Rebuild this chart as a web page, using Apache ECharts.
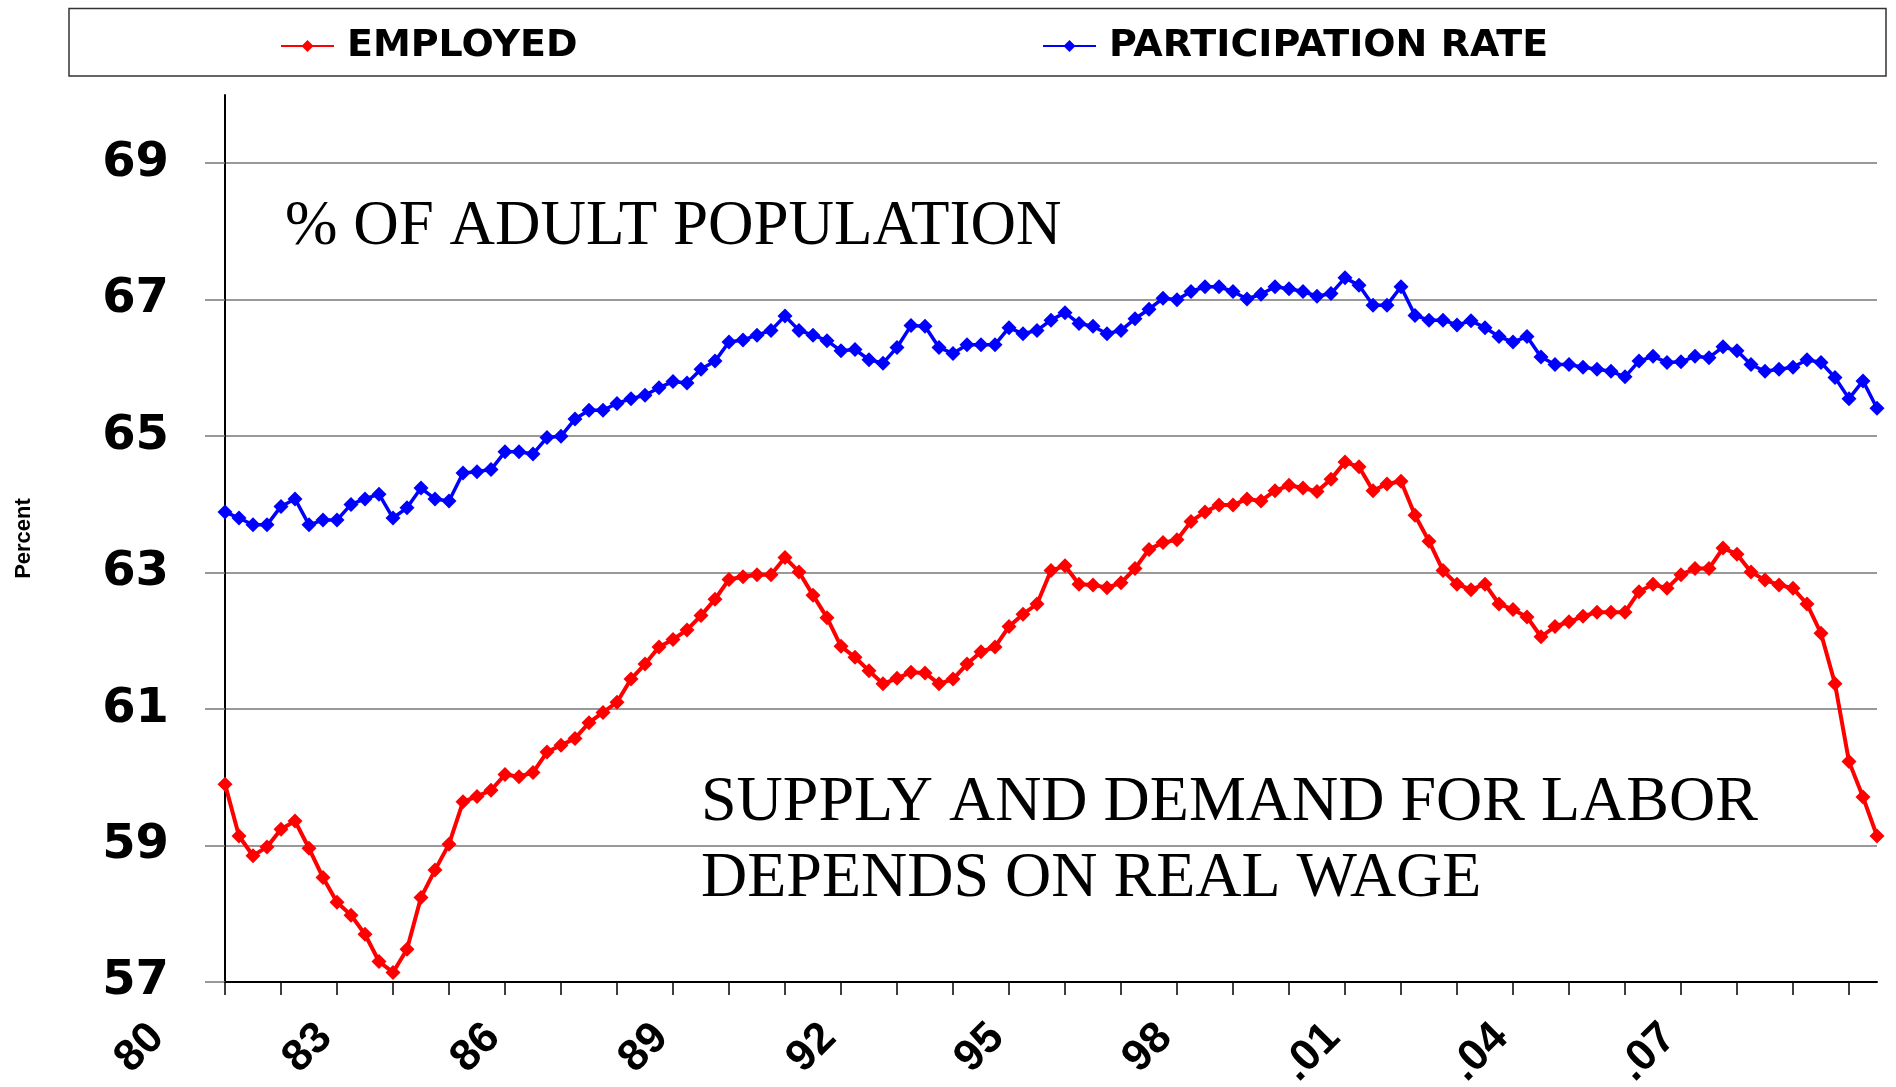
<!DOCTYPE html>
<html>
<head>
<meta charset="utf-8">
<title>Employed and participation rate</title>
<script src="https://cdn.jsdelivr.net/npm/echarts@6/dist/echarts.min.js"></script>
<style>
  html, body { margin: 0; padding: 0; background: #fff; }
  #chart { width: 1896px; height: 1087px; }
</style>
</head>
<body>
<div id="chart"></div>
<script>
// quarterly data, 1980 Q1 onwards
var startYear = 1980;
var yearLabels = ['80', '83', '86', '89', '92', '95', '98', '.01', '.04', '.07'];
var yTicks = [57, 59, 61, 63, 65, 67, 69];

var employed = [
  59.90, 59.14, 58.85, 58.98, 59.24, 59.36, 58.96, 58.53, 58.17, 57.98, 57.70, 57.30, 57.14, 57.48, 58.24, 58.64,
  59.02, 59.64, 59.72, 59.81, 60.04, 60.01, 60.07, 60.37, 60.47, 60.57, 60.80, 60.95, 61.10, 61.44, 61.66,
  61.91, 62.02, 62.16, 62.37, 62.61, 62.90, 62.94, 62.97, 62.97, 63.22, 63.01, 62.67, 62.34, 61.92, 61.76,
  61.56, 61.37, 61.45, 61.54, 61.53, 61.37, 61.44, 61.66, 61.84, 61.91, 62.21, 62.39, 62.54, 63.03, 63.10,
  62.83, 62.82, 62.78, 62.85, 63.06, 63.34, 63.44, 63.48, 63.75, 63.89, 63.99, 63.99, 64.08, 64.05, 64.20,
  64.28, 64.24, 64.19, 64.37, 64.62, 64.55, 64.20, 64.30, 64.34, 63.84, 63.46, 63.03, 62.83, 62.75, 62.83,
  62.54, 62.46, 62.35, 62.06, 62.21, 62.28, 62.36, 62.42, 62.42, 62.42, 62.72, 62.83, 62.77, 62.97,
  63.06, 63.06, 63.36, 63.27, 63.01, 62.89, 62.82, 62.77, 62.54, 62.11, 61.37, 60.23, 59.71, 59.14
];

var participation = [
  63.89, 63.80, 63.70, 63.70, 63.97, 64.08, 63.70, 63.77, 63.77, 64.00, 64.08, 64.15, 63.80, 63.95, 64.24, 64.08,
  64.05, 64.46, 64.48, 64.51, 64.77, 64.77, 64.74, 64.98, 65.00, 65.25, 65.38, 65.38, 65.48, 65.55, 65.60,
  65.71, 65.80, 65.78, 65.98, 66.10, 66.38, 66.41, 66.48, 66.55, 66.76, 66.55, 66.48, 66.40, 66.25, 66.27,
  66.12, 66.07, 66.30, 66.62, 66.61, 66.30, 66.21, 66.34, 66.34, 66.34, 66.59, 66.50, 66.55, 66.70, 66.81,
  66.65, 66.61, 66.50, 66.55, 66.72, 66.86, 67.02, 67.00, 67.12, 67.19, 67.19, 67.12, 67.01, 67.08, 67.19,
  67.16, 67.12, 67.05, 67.09, 67.32, 67.21, 66.92, 66.92, 67.19, 66.77, 66.70, 66.70, 66.63, 66.69, 66.59,
  66.46, 66.38, 66.46, 66.16, 66.05, 66.05, 66.01, 65.98, 65.95, 65.87, 66.10, 66.17, 66.08, 66.09,
  66.17, 66.15, 66.31, 66.25, 66.05, 65.95, 65.98, 66.01, 66.12, 66.08, 65.86, 65.55, 65.81, 65.41
];

var quarters = [];
for (var i = 0; i < employed.length; i++) {
  quarters.push((startYear + Math.floor(i / 4)) + ' Q' + (i % 4 + 1));
}

var myChart = echarts.init(document.getElementById('chart'));

var legendText = {
  fontFamily: 'DejaVu Sans',
  fontWeight: 'bold',
  fontSize: 38,
  color: '#000',
  padding: [0, 0, 0, 8]
};

myChart.setOption({
  animation: false,
  backgroundColor: '#fff',
  grid: {
    left: 225,
    right: 19,
    top: 95,
    bottom: 105,
    containLabel: false,
    outerBoundsMode: 'none'
  },
  legend: [
    {
      data: ['EMPLOYED'],
      left: 280,
      top: 27,
      padding: 0,
      itemWidth: 53,
      itemHeight: 15,
      textStyle: legendText
    },
    {
      data: ['PARTICIPATION RATE'],
      left: 1042,
      top: 27,
      padding: 0,
      itemWidth: 53,
      itemHeight: 15,
      textStyle: legendText
    }
  ],
  xAxis: {
    type: 'category',
    data: quarters,
    boundaryGap: false,
    axisLine: { lineStyle: { color: '#000', width: 2 } },
    axisTick: { interval: 3, length: 13, lineStyle: { color: '#000', width: 1.5 } },
    axisLabel: {
      interval: 11,
      rotate: 45,
      margin: -19,
      padding: [0, 96, 0, 0],
      fontFamily: 'Liberation Sans',
      fontWeight: 'bold',
      fontSize: 44,
      color: '#000',
      formatter: function (value, index) {
        return yearLabels[Math.round(index / 12)] || '';
      }
    },
    splitLine: { show: false }
  },
  yAxis: {
    type: 'value',
    min: 57,
    max: 70,
    name: 'Percent',
    nameLocation: 'middle',
    nameRotate: 90,
    nameGap: 190,
    nameTextStyle: {
      fontFamily: 'Liberation Sans',
      fontWeight: 'bold',
      fontSize: 22,
      color: '#000'
    },
    axisLine: { show: true, lineStyle: { color: '#000', width: 2 } },
    axisTick: {
      show: true,
      length: 20,
      customValues: yTicks,
      lineStyle: { color: '#777', width: 1.5 }
    },
    axisLabel: {
      customValues: yTicks,
      margin: 56,
      fontFamily: 'DejaVu Sans',
      fontWeight: 'bold',
      fontSize: 48,
      color: '#000'
    },
    splitLine: { show: true, lineStyle: { color: '#777', width: 1.5 } }
  },
  graphic: [
    {
      type: 'rect',
      shape: { x: 69, y: 8.5, width: 1817, height: 67.5 },
      style: { fill: 'none', stroke: '#333', lineWidth: 1.5 },
      silent: true
    },
    {
      type: 'text',
      left: 285,
      top: 196,
      style: {
        text: '% OF ADULT POPULATION',
        fontFamily: 'Liberation Serif',
        fontSize: 63,
        fill: '#000'
      }
    },
    {
      type: 'text',
      left: 701,
      top: 765,
      style: {
        text: 'SUPPLY AND DEMAND FOR LABOR\nDEPENDS ON REAL WAGE',
        fontFamily: 'Liberation Serif',
        fontSize: 64,
        lineHeight: 76,
        fill: '#000'
      }
    }
  ],
  series: [
    {
      name: 'EMPLOYED',
      type: 'line',
      data: employed,
      symbol: 'diamond',
      symbolSize: 15,
      showAllSymbol: true,
      itemStyle: { color: '#ff0000' },
      lineStyle: { color: '#ff0000', width: 4 },
      emphasis: { disabled: true }
    },
    {
      name: 'PARTICIPATION RATE',
      type: 'line',
      data: participation,
      symbol: 'diamond',
      symbolSize: 15,
      showAllSymbol: true,
      itemStyle: { color: '#0000ff' },
      lineStyle: { color: '#0000ff', width: 3.5 },
      emphasis: { disabled: true }
    }
  ]
});
</script>
</body>
</html>
